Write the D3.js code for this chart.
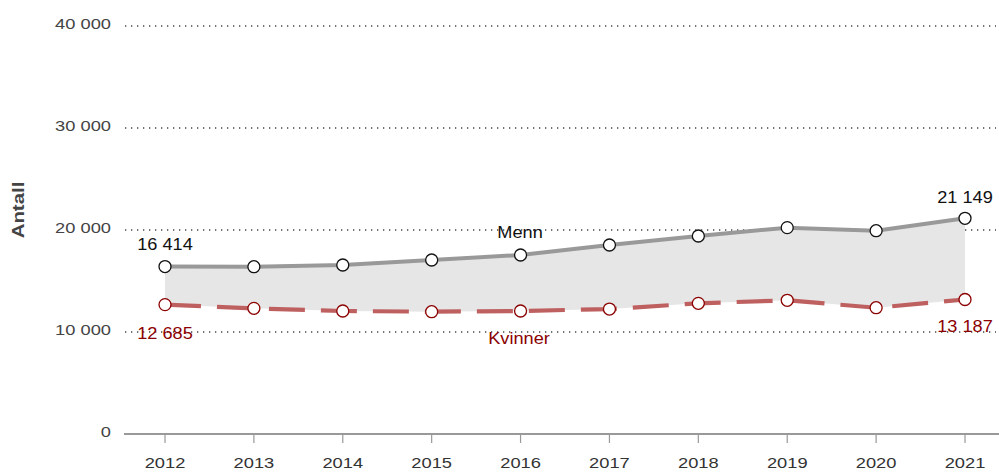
<!DOCTYPE html>
<html><head><meta charset="utf-8">
<script src="https://cdn.jsdelivr.net/npm/d3@7"></script>
<style>body{margin:0;background:#fff;}svg{display:block;font-family:"Liberation Sans",Arial,sans-serif;}</style>
</head><body>
<svg id="c" width="999" height="473"></svg>
<script>
const years = [2012,2013,2014,2015,2016,2017,2018,2019,2020,2021];
const menn = [16414,16400,16570,17060,17550,18530,19410,20230,19930,21149];
const kvinner = [12685,12320,12060,11990,12060,12250,12810,13110,12380,13187];
const yTicks = [0,10000,20000,30000,40000];
const seriesNames = ["Menn","Kvinner"];

const svg = d3.select("#c");
const x = d3.scalePoint().domain(years).range([165,965]);
const y = d3.scaleLinear().domain([0,40000]).range([434,26]);
const fmt = v => d3.format(",")(v).replace(/,/g," ");
const AX = 1.18, DX = 1.07;

function label(g, px, py, txt, size, fill, anchor, sx, dy) {
  g.append("g").attr("transform",`translate(${px},${py}) scale(${sx},1)`)
    .append("text").attr("text-anchor",anchor).attr("dy",dy).attr("font-size",size)
    .attr("fill",fill).text(txt);
}

// gridlines
svg.append("g").selectAll("line").data(yTicks.filter(d=>d>0)).join("line")
  .attr("x1",125).attr("x2",996).attr("y1",d=>y(d)).attr("y2",d=>y(d))
  .attr("stroke","#444").attr("stroke-width",1.3).attr("stroke-dasharray","1.3,4.7");

// y labels
const gy = svg.append("g");
yTicks.forEach(d => label(gy, 111, y(d), fmt(d), 15.5, "#444", "end", AX, "0.2em"));

svg.append("g").attr("transform","translate(24,210) rotate(-90) scale(1.2,1)")
  .append("text").attr("text-anchor","middle").attr("font-size",17).attr("font-weight","bold")
  .attr("fill","#444").text("Antall");

// x axis
svg.append("line").attr("x1",124).attr("x2",999).attr("y1",434).attr("y2",434)
  .attr("stroke","#999").attr("stroke-width",2);
svg.append("g").selectAll("line").data(years).join("line")
  .attr("x1",d=>x(d)).attr("x2",d=>x(d)).attr("y1",434).attr("y2",443)
  .attr("stroke","#999").attr("stroke-width",1.2);
const gx = svg.append("g");
years.forEach(d => label(gx, x(d), 463, d, 15.5, "#333", "middle", AX, "0.35em"));

// area between
const idx = d3.range(years.length);
svg.append("path").datum(idx)
  .attr("d", d3.area().x(i=>x(years[i])).y0(i=>y(kvinner[i])).y1(i=>y(menn[i])))
  .attr("fill","#e6e6e6");

// lines
svg.append("path").datum(idx)
  .attr("d", d3.line().x(i=>x(years[i])).y(i=>y(menn[i])))
  .attr("fill","none").attr("stroke","#999").attr("stroke-width",4);
svg.append("path").datum(idx)
  .attr("d", d3.line().x(i=>x(years[i])).y(i=>y(kvinner[i])))
  .attr("fill","none").attr("stroke","#bf6060").attr("stroke-width",4.2)
  .attr("stroke-dasharray","36,16");

// markers
svg.append("g").selectAll("circle").data(idx).join("circle")
  .attr("cx",i=>x(years[i])).attr("cy",i=>y(menn[i])).attr("r",6)
  .attr("fill","#fff").attr("stroke","#111").attr("stroke-width",1.3);
svg.append("g").selectAll("circle").data(idx).join("circle")
  .attr("cx",i=>x(years[i])).attr("cy",i=>y(kvinner[i])).attr("r",6)
  .attr("fill","#fff").attr("stroke","#8b0000").attr("stroke-width",1.3);

// value labels
const last = years.length-1;
const gl = svg.append("g");
label(gl, x(years[0]), y(menn[0])-23, fmt(menn[0]), 17, "#111", "middle", DX, "0.35em");
label(gl, x(years[last]), y(menn[last])-21, fmt(menn[last]), 17, "#111", "middle", DX, "0.35em");
label(gl, x(years[0]), y(kvinner[0])+28, fmt(kvinner[0]), 17, "#8b0000", "middle", DX, "0.35em");
label(gl, x(years[last]), y(kvinner[last])+27, fmt(kvinner[last]), 17, "#8b0000", "middle", DX, "0.35em");

// series labels
label(gl, 520, 232, seriesNames[0], 17, "#111", "middle", DX, "0.35em");
label(gl, 519, 338, seriesNames[1], 17, "#8b0000", "middle", DX, "0.35em");
</script>
</body></html>
